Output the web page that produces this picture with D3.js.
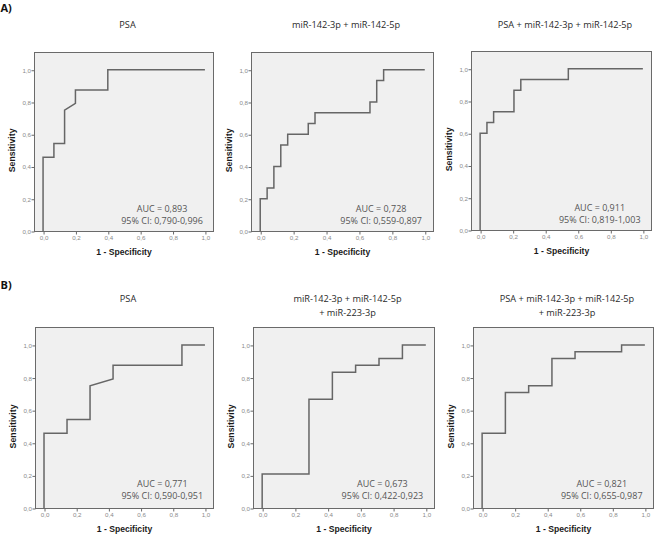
<!DOCTYPE html>
<html>
<head>
<meta charset="utf-8">
<script src="https://cdn.jsdelivr.net/npm/d3@7"></script>
<style>
  html, body { margin: 0; padding: 0; background: #fff; }
  svg { display: block; }
</style>
</head>
<body>
<svg id="chart" width="658" height="535"></svg>
<script>
// ---------- DATA ----------
const tickValues = [0, 0.2, 0.4, 0.6, 0.8, 1.0];

const rocA_PSA = [[0,0],[0,0.458],[0.067,0.458],[0.067,0.542],[0.133,0.542],[0.133,0.75],[0.2,0.792],[0.2,0.875],[0.4,0.875],[0.4,1],[1,1]];
const rocA_miR = [[0,0],[0,0.2],[0.042,0.2],[0.042,0.267],[0.083,0.267],[0.083,0.4],[0.125,0.4],[0.125,0.533],[0.167,0.533],[0.167,0.6],[0.292,0.6],[0.292,0.667],[0.333,0.667],[0.333,0.733],[0.667,0.733],[0.667,0.8],[0.708,0.8],[0.708,0.933],[0.75,0.933],[0.75,1],[1,1]];
const rocA_comb = [[0,0],[0,0.6],[0.042,0.6],[0.042,0.667],[0.083,0.667],[0.083,0.733],[0.208,0.733],[0.208,0.867],[0.25,0.867],[0.25,0.933],[0.542,0.933],[0.542,1],[1,1]];
const rocB_PSA = [[0,0],[0,0.458],[0.143,0.458],[0.143,0.542],[0.286,0.542],[0.286,0.75],[0.429,0.792],[0.429,0.875],[0.857,0.875],[0.857,1],[1,1]];
const rocB_miR = [[0,0],[0,0.208],[0.286,0.208],[0.286,0.667],[0.429,0.667],[0.429,0.833],[0.571,0.833],[0.571,0.875],[0.714,0.875],[0.714,0.917],[0.857,0.917],[0.857,1],[1,1]];
const rocB_comb = [[0,0],[0,0.458],[0.143,0.458],[0.143,0.708],[0.286,0.708],[0.286,0.75],[0.429,0.75],[0.429,0.917],[0.571,0.917],[0.571,0.958],[0.857,0.958],[0.857,1],[1,1]];

const titles = [
  ["PSA"],
  ["miR-142-3p + miR-142-5p"],
  ["PSA + miR-142-3p + miR-142-5p"],
  ["PSA"],
  ["miR-142-3p + miR-142-5p", "+ miR-223-3p"],
  ["PSA + miR-142-3p + miR-142-5p", "+ miR-223-3p"]
];
const aucLabels = ["AUC = 0,893", "AUC = 0,728", "AUC = 0,911", "AUC = 0,771", "AUC = 0,673", "AUC = 0,821"];
const ciLabels = ["95% CI: 0,790-0,996", "95% CI: 0,559-0,897", "95% CI: 0,819-1,003", "95% CI: 0,590-0,951", "95% CI: 0,422-0,923", "95% CI: 0,655-0,987"];
const rowLabels = ["A)", "B)"];
const curves = [rocA_PSA, rocA_miR, rocA_comb, rocB_PSA, rocB_miR, rocB_comb];

// ---------- LAYOUT ----------
const boxes = [
  {l: 34,  r: 213, t: 52,  b: 231, row: 0},
  {l: 251, r: 433, t: 52,  b: 231, row: 0},
  {l: 471, r: 651, t: 51,  b: 230, row: 0},
  {l: 35,  r: 213, t: 327, b: 508, row: 1},
  {l: 253, r: 434, t: 327, b: 508, row: 1},
  {l: 473, r: 653, t: 327, b: 508, row: 1}
];
const rowCfg = [
  {titleY: 28, aucDy: -19.5, ciDy: -7, labelY: 12},
  {titleY: 302, aucDy: -21.5, ciDy: -9, labelY: 289}
];

const locale = d3.formatLocale({decimal: ",", thousands: ".", grouping: [3], currency: ["", ""]});
const fmt = locale.format(".1f");

const svg = d3.select("#chart");
svg.append("rect").attr("width", 658).attr("height", 535).attr("fill", "#fff");

// Row labels
rowLabels.forEach((lab, i) => {
  svg.append("text")
    .attr("x", 0.5).attr("y", rowCfg[i].labelY)
    .attr("font-family", "Open Sans, sans-serif")
    .attr("font-weight", "bold")
    .attr("font-size", 11)
    .attr("fill", "#111")
    .text(lab);
});

boxes.forEach((bx, i) => {
  const cfg = rowCfg[bx.row];
  const x = d3.scaleLinear().domain([-0.056, 1.05]).range([bx.l, bx.r]);
  const y = d3.scaleLinear().domain([0, 1.11]).range([bx.b, bx.t]);
  const g = svg.append("g");

  // plot background + frame
  g.append("rect")
    .attr("x", bx.l + 0.5).attr("y", bx.t + 0.5)
    .attr("width", bx.r - bx.l).attr("height", bx.b - bx.t)
    .attr("fill", "#f0f0f0").attr("stroke", "#6a6a6a").attr("stroke-width", 1);

  // axes
  const xAxis = d3.axisBottom(x).tickValues(tickValues).tickSize(3).tickFormat(fmt);
  const yAxis = d3.axisLeft(y).tickValues(tickValues).tickSize(3).tickFormat(fmt);
  const gx = g.append("g").attr("transform", `translate(0.5,${bx.b + 0.5})`).call(xAxis);
  const gy = g.append("g").attr("transform", `translate(${bx.l + 0.5},0.5)`).call(yAxis);
  [gx, gy].forEach(a => {
    a.select(".domain").remove();
    a.selectAll(".tick line").attr("stroke", "#6a6a6a");
    a.selectAll(".tick text")
      .attr("font-family", "Liberation Sans, Arial, sans-serif")
      .attr("font-size", 6.2)
      .attr("fill", "#8a8a8a");
  });
  gx.selectAll(".tick text").attr("dy", "0.9em").attr("y", 3);
  gy.selectAll(".tick text").attr("x", -3.5);

  // ROC curve
  const line = d3.line().x(d => x(d[0])).y(d => y(d[1]));
  g.append("path")
    .datum(curves[i])
    .attr("d", line)
    .attr("fill", "none")
    .attr("stroke", "#666")
    .attr("stroke-width", 1.5);

  // title
  const tcx = (bx.l + bx.r) / 2 + 4;
  titles[i].forEach((t, k) => {
    g.append("text")
      .attr("x", tcx).attr("y", cfg.titleY + k * 14)
      .attr("text-anchor", "middle")
      .attr("font-family", "Open Sans, sans-serif")
      .attr("font-size", 9.2)
      .attr("fill", "#2a2a2a")
      .text(t);
  });

  // axis labels
  g.append("text")
    .attr("x", x(0.5)).attr("y", bx.b + 24)
    .attr("text-anchor", "middle")
    .attr("font-family", "Liberation Sans, Arial, sans-serif")
    .attr("font-weight", "bold")
    .attr("font-size", 8.6)
    .attr("fill", "#1a1a1a")
    .text("1 - Specificity");
  g.append("text")
    .attr("transform", `translate(${bx.l - 19.5},${y(0.5)}) rotate(-90)`)
    .attr("text-anchor", "middle")
    .attr("font-family", "Liberation Sans, Arial, sans-serif")
    .attr("font-weight", "bold")
    .attr("font-size", 8.8)
    .attr("fill", "#1a1a1a")
    .text("Sensitivity");

  // AUC annotation
  const ax = x(0.735);
  g.append("text")
    .attr("x", ax).attr("y", bx.b + cfg.aucDy)
    .attr("text-anchor", "middle")
    .attr("font-family", "Open Sans, sans-serif")
    .attr("font-size", 9)
    .attr("fill", "#555")
    .text(aucLabels[i]);
  g.append("text")
    .attr("x", ax).attr("y", bx.b + cfg.ciDy)
    .attr("text-anchor", "middle")
    .attr("font-family", "Open Sans, sans-serif")
    .attr("font-size", 9)
    .attr("fill", "#555")
    .text(ciLabels[i]);
});
</script>
</body>
</html>
